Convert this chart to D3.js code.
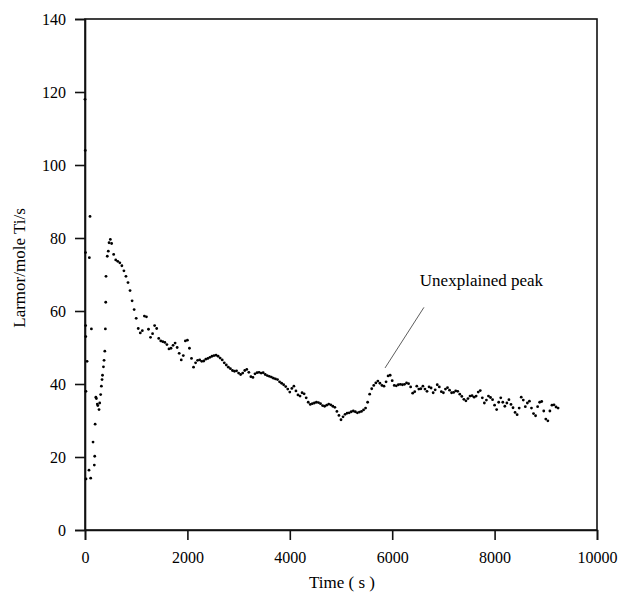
<!DOCTYPE html>
<html>
<head>
<meta charset="utf-8">
<script src="https://cdn.jsdelivr.net/npm/d3@7"></script>
<style>
  html, body { margin: 0; padding: 0; background: #fff; }
  svg { display: block; }
  text { font-family: "Liberation Serif", "Times New Roman", serif; fill: #000; }
</style>
</head>
<body>
<svg id="chart" width="623" height="594"></svg>
<script>
// Early readings (irregular sampling during start-up), time in s
const earlyTimes = [0, 5, 10, 12, 15, 18, 20, 40, 78, 85, 98, 111, 125, 157, 182, 190, 198, 212, 222, 240,
  250, 274, 287, 306, 320, 333, 342, 360, 372, 387, 398, 405, 410, 435, 455, 470, 495];
const earlyValues = [118, 104, 76, 56, 53, 38, 14, 46.2, 16.4, 74.6, 85.9, 14.2, 55.1, 24.1, 17.8, 20.2, 29.0, 36.4, 36.0, 34.5,
  34.1, 33.0, 34.8, 37.1, 39.4, 41.2, 42.4, 44.7, 46.5, 49.0, 55.1, 62.4, 69.5, 75.0, 76.4, 78.7, 79.6];

// Regular logging from 520 s onward, one reading every 40 s
const mainStart = 520;
const mainStep = 40;
const mainValues = [
  78.5, 75.5, 74.0, 73.6, 73.2, 72.4, 71.0, 69.5, 67.8, 65.6,
  62.8, 60.4, 58.0, 55.2, 54.0, 54.6, 58.6, 58.4, 55.0, 52.8,
  53.8, 56.0, 55.2, 52.5, 51.8, 51.6, 51.4, 50.8, 49.6, 49.8,
  50.6, 51.2, 50.0, 48.4, 46.6, 47.8, 51.8, 52.0, 49.8, 47.0,
  44.6, 45.8, 46.5, 46.6, 46.2, 46.3, 46.8, 47.0, 47.3, 47.6,
  47.8, 47.9, 47.6, 47.1, 46.6, 45.8, 45.2, 44.6, 44.2, 43.7,
  43.5, 43.6, 43.0, 42.6, 43.0, 43.7, 44.0, 43.2, 42.0, 41.8,
  42.8, 43.1, 43.2, 43.0, 43.1, 42.6, 42.3, 42.1, 41.9, 41.6,
  41.4, 41.2, 40.6, 40.2, 39.8, 39.3, 38.6, 37.8, 38.8, 39.4,
  38.1, 37.0, 36.7, 37.6, 37.3, 36.2, 35.0, 34.4, 34.6, 34.8,
  35.0, 34.9, 34.6, 34.1, 33.9, 34.2, 34.5, 34.3, 33.9, 33.6,
  32.5, 31.4, 30.2, 31.0, 31.7, 32.0, 32.1, 32.4, 32.6, 32.4,
  32.1, 32.3, 32.5, 32.9, 33.4, 35.0, 37.2, 38.7, 39.6, 40.3,
  40.8, 40.2, 39.6, 39.4, 40.6, 42.2, 42.4, 40.9, 39.6, 39.5,
  39.8, 39.9, 39.8, 39.9, 40.3, 40.1, 39.2, 37.5, 37.9, 39.4,
  38.6, 38.7, 39.4, 38.6, 38.0, 39.2, 38.9, 37.6, 38.4, 39.8,
  39.2, 37.9, 37.6, 38.6, 39.0, 38.3, 37.6, 37.7, 38.1, 38.0,
  37.2, 36.6, 35.8, 35.4, 36.0, 36.7, 36.8, 36.4, 36.7, 37.8,
  38.2, 36.2, 34.8, 35.6, 36.7, 36.3, 35.7, 34.2, 33.0, 35.0,
  36.2, 35.0, 33.9, 34.8, 35.7, 34.4, 33.5, 32.2, 31.6, 33.4,
  36.4, 35.6, 33.8, 34.8, 35.3, 33.4, 31.9, 31.3, 33.8, 35.0,
  35.2, 32.6, 30.4, 29.9, 32.6, 34.2, 34.3, 33.7, 33.4
];

const xTicks = [0, 2000, 4000, 6000, 8000, 10000];
const yTicks = [0, 20, 40, 60, 80, 100, 120, 140];

// callout: label anchor and leader line ends, in data units
const note = { text: "Unexplained peak", label: [6540, 66.8], from: [6620, 61], to: [5860, 44.4] };

const points = earlyTimes.map((t, i) => ({ t, v: earlyValues[i] }))
  .concat(mainValues.map((v, i) => ({ t: mainStart + i * mainStep, v })));

const svg = d3.select("#chart");
const m = { left: 85, right: 597, top: 19, bottom: 530 };

const x = d3.scaleLinear().domain([0, 10000]).range([m.left, m.right]);
const y = d3.scaleLinear().domain([0, 140]).range([m.bottom, m.top]);

// plot frame
svg.append("rect")
  .attr("x", m.left).attr("y", m.top)
  .attr("width", m.right - m.left).attr("height", m.bottom - m.top)
  .attr("fill", "none").attr("stroke", "#111").attr("stroke-width", 1.6);

const xAxis = svg.append("g")
  .attr("transform", `translate(0,${m.bottom})`)
  .call(d3.axisBottom(x).tickValues(xTicks).tickFormat(d3.format("d")).tickSize(10).tickPadding(12));
const yAxis = svg.append("g")
  .attr("transform", `translate(${m.left},0)`)
  .call(d3.axisLeft(y).tickValues(yTicks).tickSize(10).tickPadding(9));

[xAxis, yAxis].forEach(g => {
  g.select(".domain").attr("stroke", "#111").attr("stroke-width", 1.6);
  g.selectAll(".tick line").attr("stroke", "#111").attr("stroke-width", 1.6);
  g.selectAll(".tick text")
    .attr("fill", "#000")
    .style("font-family", '"Liberation Serif", "Times New Roman", serif')
    .style("font-size", "16px");
});

// data points
svg.append("g").selectAll("circle")
  .data(points)
  .join("circle")
  .attr("cx", d => x(d.t))
  .attr("cy", d => y(d.v))
  .attr("r", 1.4)
  .attr("fill", "#000");

// annotation
svg.append("line")
  .attr("x1", x(note.from[0])).attr("y1", y(note.from[1]))
  .attr("x2", x(note.to[0])).attr("y2", y(note.to[1]))
  .attr("stroke", "#333").attr("stroke-width", 0.8);
svg.append("text")
  .attr("x", x(note.label[0])).attr("y", y(note.label[1]))
  .style("font-size", "17px")
  .text(note.text);

// axis titles
svg.append("text")
  .attr("x", 342).attr("y", 588)
  .attr("text-anchor", "middle")
  .style("font-size", "17px")
  .text("Time ( s )");
svg.append("text")
  .attr("transform", `translate(25,268) rotate(-90)`)
  .attr("text-anchor", "middle")
  .style("font-size", "17px")
  .text("Larmor/mole Ti/s");
</script>
</body>
</html>
